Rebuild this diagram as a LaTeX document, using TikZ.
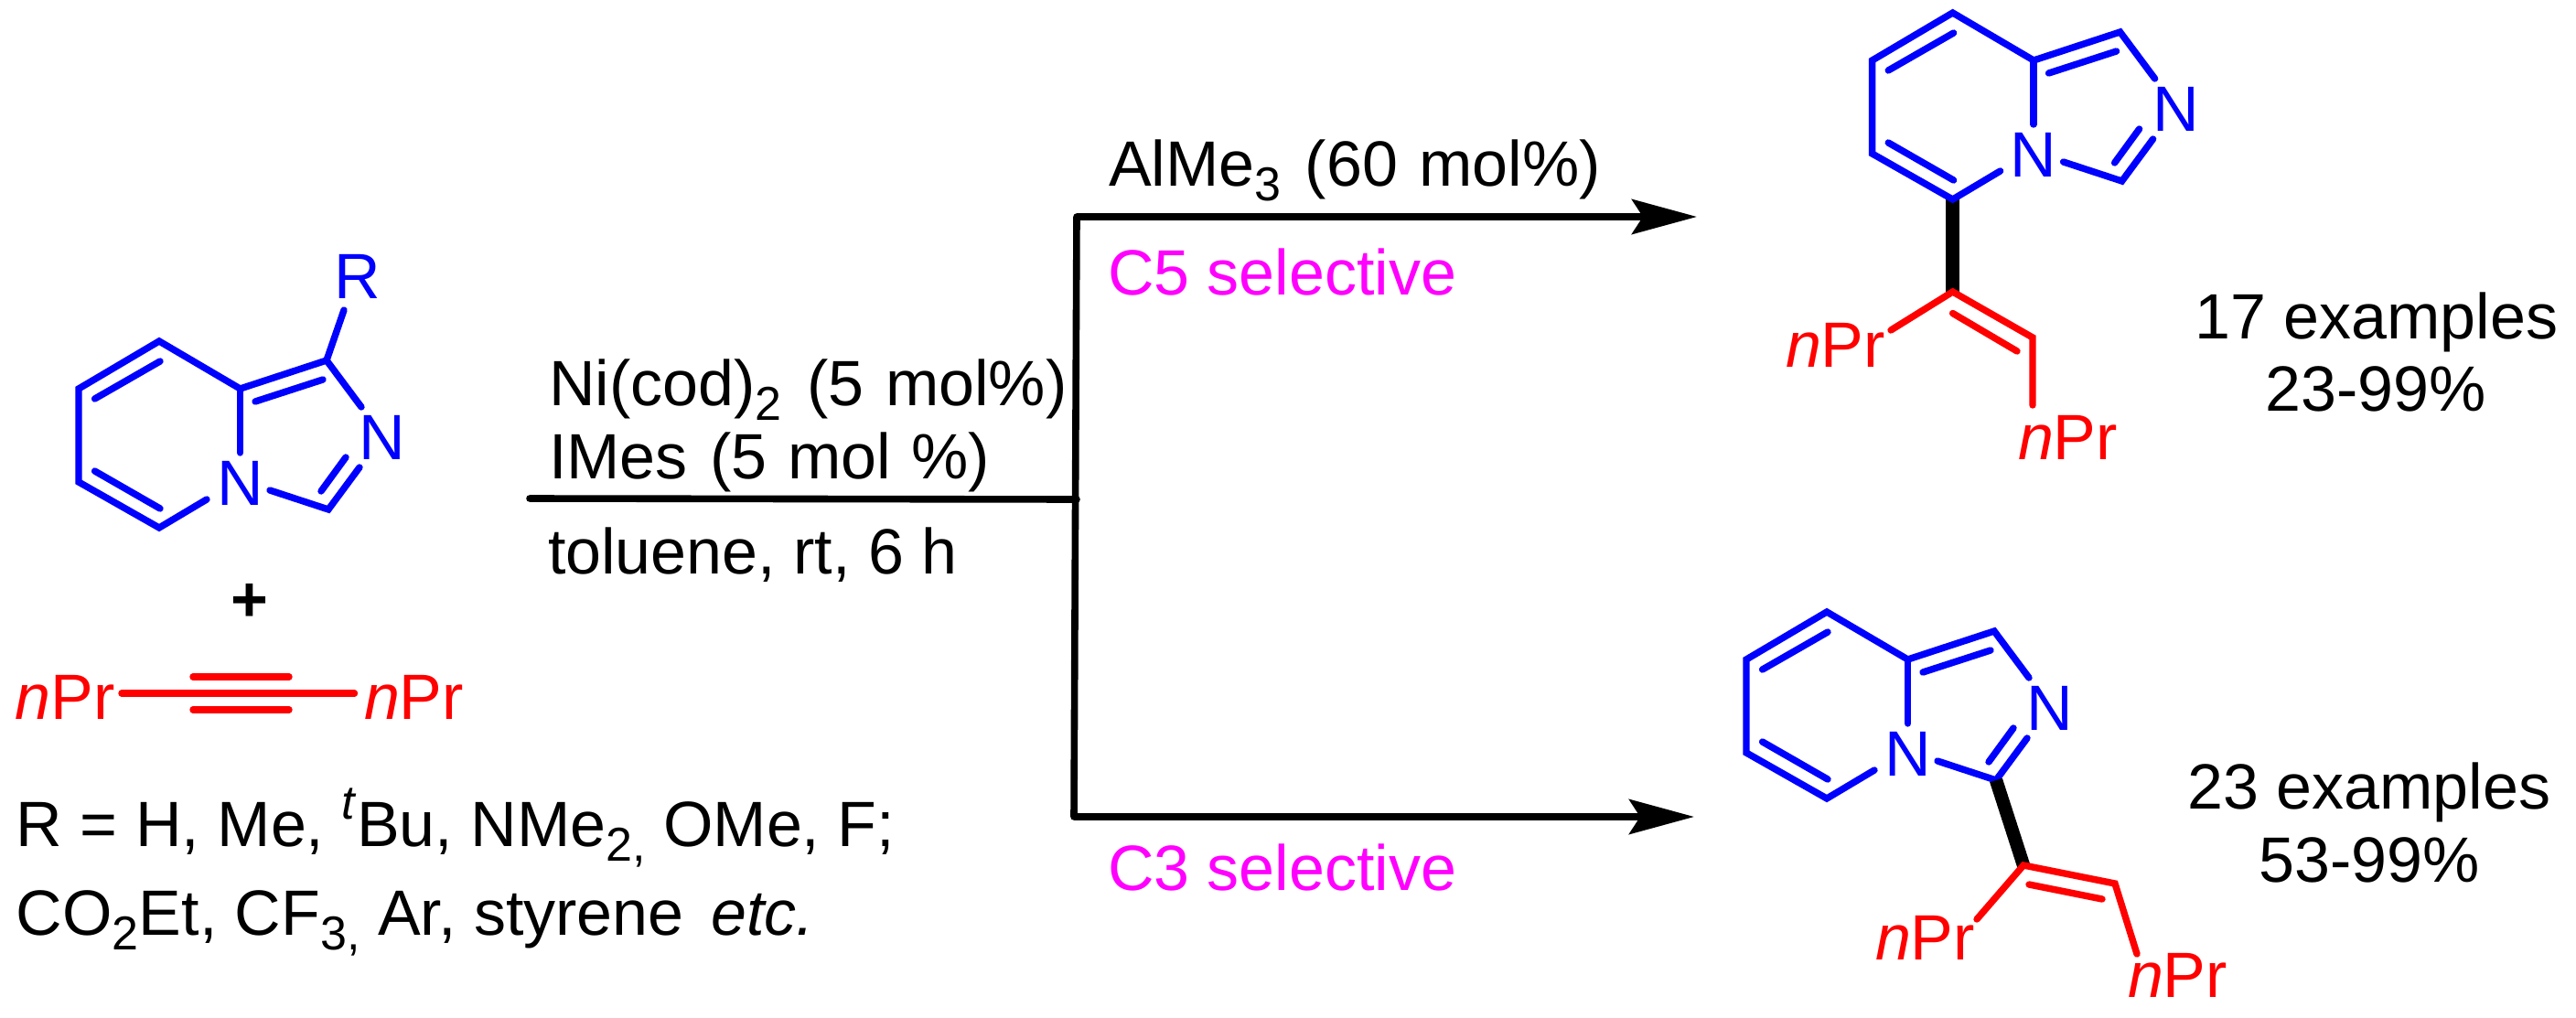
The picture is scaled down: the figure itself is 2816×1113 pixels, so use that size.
\documentclass[tikz,border=0pt]{standalone}
\usepackage{fontspec}
\setmainfont{Liberation Sans}
\usetikzlibrary{arrows.meta}
\definecolor{selective}{RGB}{255,0,255}
\definecolor{ringblue}{RGB}{0,0,255}
\definecolor{chainred}{RGB}{255,0,0}
\newcommand{\lowr}[1]{\raisebox{-0.23em}{\fontsize{26pt}{26pt}\selectfont #1}}
\newcommand{\highr}[1]{\raisebox{0.42em}{\fontsize{26pt}{26pt}\selectfont #1}}
\newcommand{\nPr}{\textit{n}Pr}
\tikzset{
    lab/.style={inner sep=0pt, outer sep=0pt, font=\fontsize{35pt}{42pt}\selectfont},
    txt/.style={lab, anchor=base west},
    mid/.style={lab, anchor=base},
    bond/.style={line width=3.7pt, line cap=round, line join=miter, miter limit=10},
    boldbond/.style={line width=7.2pt, line cap=butt},
    rxn/.style={line width=3.8pt, line cap=round},
    rxnarrow/.style={line width=3.8pt, -{Stealth[length=35.5pt,width=19pt,inset=6pt]}},
}
% pyridine ring fused to the imidazole ring, same drawing every time
\newcommand{\ringsys}{
    \coordinate (c8) at (174, 373);
    \coordinate (c7) at (86, 425);
    \coordinate (c6) at (86, 527);
    \coordinate (c5) at (174, 577);
    \coordinate (c8a) at (262.5, 425);
    \coordinate (c1) at (357, 394);
    \coordinate (c3) at (359, 557);
    \node[lab, text=ringblue] (n4) at (262.5, 528.6) {N};
    \node[lab, text=ringblue] (n2) at (418, 478.6) {N};
    \coordinate (e1) at (226, 546);
    \coordinate (e2) at (262.5, 495);
    \coordinate (e3) at (395, 445);
    \coordinate (e4) at (393, 511);
    \coordinate (e5) at (295, 536);
    \coordinate (i1) at (103.6, 436);
    \coordinate (i2) at (175, 395);
    \coordinate (i3) at (103.6, 515);
    \coordinate (i4) at (175, 556);
    \coordinate (i5) at (279, 439);
    \coordinate (i6) at (353, 415);
    \coordinate (i7) at (351, 537);
    \coordinate (i8) at (378, 500);
    \draw[bond, ringblue] (e1) -- (c5) -- (c6) -- (c7) -- (c8) -- (c8a) -- (c1) -- (e3);
    \draw[bond, ringblue] (c8a) -- (e2);
    \draw[bond, ringblue] (e5) -- (c3) -- (e4);
    \draw[bond, ringblue] (i1) -- (i2);
    \draw[bond, ringblue] (i3) -- (i4);
    \draw[bond, ringblue] (i5) -- (i6);
    \draw[bond, ringblue] (i7) -- (i8);
}
\begin{document}
\begin{tikzpicture}[x=0.5pt, y=-0.5pt]
    \useasboundingbox (0, 0) rectangle (2816, 1113);

    % starting material
    \begin{scope}[name prefix=sm-]
        \ringsys
    \end{scope}
    \coordinate (rend) at (376, 339);
    \node[lab, text=ringblue] (rgroup) at (391, 302) {R};
    \draw[bond, ringblue] (sm-c1) -- (rend);
    \node[lab, font=\fontsize{35pt}{42pt}\selectfont\bfseries] (plus) at (273, 659) {+};

    % alkyne
    \node[txt, text=chainred] (prleft) at (17, 786) {\nPr};
    \node[txt, text=chainred] (prright) at (398, 786) {\nPr};
    \coordinate (ya) at (133, 758);
    \coordinate (yb) at (387.5, 758);
    \coordinate (yc) at (211, 740);
    \coordinate (yd) at (316, 740);
    \coordinate (ye) at (211, 776);
    \coordinate (yf) at (316, 776);
    \draw[bond, chainred] (ya) -- (yb);
    \draw[bond, chainred] (yc) -- (yd);
    \draw[bond, chainred] (ye) -- (yf);

    \node[txt] (rlist) at (18, 925) {R = H, Me, \highr{\textit{t}}Bu, NMe\lowr{2,} OMe, F;};
    \node[txt] (rmore) at (18, 1022) {CO\lowr{2}Et, CF\lowr{3,} Ar, styrene\hspace{0.15em} \textit{etc.}};

    % reaction fork
    \coordinate (start) at (579, 545);
    \coordinate (fork) at (1177, 546);
    \coordinate (forktop) at (1177, 237);
    \coordinate (forkbot) at (1174, 893);
    \coordinate (tiptop) at (1855, 237);
    \coordinate (tipbot) at (1852, 893);
    \draw[rxn] (start) -- (fork);
    \draw[rxn] (forktop) -- (forkbot);
    \draw[rxnarrow] (forktop) -- (tiptop);
    \draw[rxnarrow] (forkbot) -- (tipbot);

    \node[txt] (nicat) at (600, 443) {Ni(cod)\lowr{2}\hspace{0.12em} (5\hspace{0.06em} mol\%)};
    \node[txt] (imes) at (600, 523) {IMes\hspace{0.08em} (5\hspace{0.04em} mol\hspace{0.04em} \%)};
    \node[txt] (solvent) at (599, 627) {toluene, rt, 6 h};
    \node[txt] (alme) at (1212, 203) {AlMe\lowr{3}\hspace{0.1em} (60\hspace{0.06em} mol\%)};
    \node[txt, text=selective] (cfive) at (1211, 322) {C5 selective};
    \node[txt, text=selective] (cthree) at (1211, 973) {C3 selective};

    % C5 product
    \coordinate (ta) at (2134.6, 319);
    \coordinate (tb) at (2222, 369);
    \coordinate (tc) at (2222, 443);
    \coordinate (td) at (2067, 361);
    \coordinate (te) at (2134.6, 342.5);
    \coordinate (tf) at (2205, 384);
    \draw[boldbond] (2134.6, 218) coordinate (tg) -- (ta);
    \begin{scope}[shift={(1960.6, -359)}, name prefix=top-]
        \ringsys
    \end{scope}
    \draw[bond, chainred] (td) -- (ta) -- (tb) -- (tc);
    \draw[bond, chainred] (te) -- (tf);
    \node[txt, text=chainred] (prtopl) at (1952, 401) {\nPr};
    \node[txt, text=chainred] (prtopr) at (2206, 502) {\nPr};
    \node[mid] (topcount) at (2598, 370) {17 examples};
    \node[mid] (topyield) at (2597, 449) {23-99\%};

    % C3 product
    \coordinate (ba) at (2212, 946);
    \coordinate (bb) at (2312, 966);
    \coordinate (bc) at (2336, 1043);
    \coordinate (bd) at (2161, 1005);
    \coordinate (be) at (2218, 967);
    \coordinate (bf) at (2298, 983);
    \begin{scope}[shift={(1823, 296)}, name prefix=bot-]
        \ringsys
    \end{scope}
    \draw[boldbond] (bot-c3) -- (ba);
    \draw[bond, chainred] (bd) -- (ba) -- (bb) -- (bc);
    \draw[bond, chainred] (be) -- (bf);
    \node[txt, text=chainred] (prbotl) at (2050, 1049) {\nPr};
    \node[txt, text=chainred] (prbotr) at (2326, 1090) {\nPr};
    \node[mid] (botcount) at (2590, 884) {23 examples};
    \node[mid] (botyield) at (2590, 964) {53-99\%};
\end{tikzpicture}
\end{document}
